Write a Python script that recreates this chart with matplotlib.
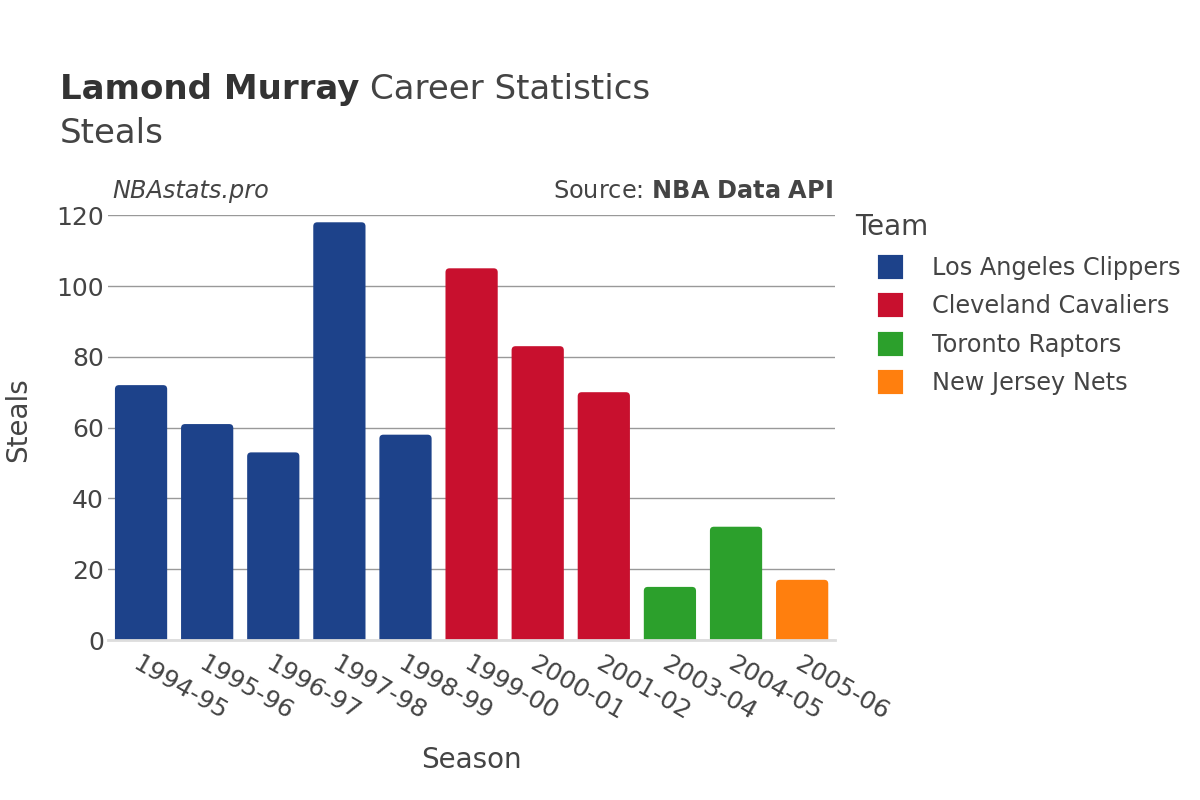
import numpy as np
import matplotlib.pyplot as plt
from matplotlib.patches import FancyBboxPatch, Patch

# data
seasons = ['1994-95', '1995-96', '1996-97', '1997-98', '1998-99', '1999-00',
           '2000-01', '2001-02', '2003-04', '2004-05', '2005-06']
steals = [72, 61, 53, 118, 58, 105, 83, 70, 15, 32, 17]
teams = ['Los Angeles Clippers'] * 5 + ['Cleveland Cavaliers'] * 3 + \
        ['Toronto Raptors'] * 2 + ['New Jersey Nets']
team_order = ['Los Angeles Clippers', 'Cleveland Cavaliers', 'Toronto Raptors', 'New Jersey Nets']
team_colors = {'Los Angeles Clippers': '#1d428a',
               'Cleveland Cavaliers': '#c8102e',
               'Toronto Raptors': '#2ca02c',
               'New Jersey Nets': '#ff7f0e'}

txt = '#444444'

fig = plt.figure(figsize=(12, 8), dpi=100)
ax = fig.add_axes([0.09, 0.2, 0.606, 0.531])

x = np.arange(len(seasons))
width = 0.79
ax.set_xlim(-0.5, len(seasons) - 0.5)
ax.set_ylim(0, 120)

# rounded bars: radius ~4 px, bottom pushed below 0 so it is clipped square
px_x = ax.get_position().width * 1200 / len(seasons)
px_y = ax.get_position().height * 800 / 120
r = 4 / px_x
aspect = (4 / px_y) / r
for xi, v, t in zip(x, steals, teams):
    p = FancyBboxPatch((xi - width / 2, -5), width, v + 5,
                       boxstyle='round,pad=0,rounding_size=%f' % r,
                       mutation_aspect=aspect, fc=team_colors[t], ec='none', zorder=3)
    ax.add_patch(p)

ax.set_yticks([0, 20, 40, 60, 80, 100, 120])
ax.yaxis.grid(True, color='#999999', linewidth=1)
ax.set_axisbelow(True)
for s in ['top', 'right', 'left']:
    ax.spines[s].set_visible(False)
ax.spines['bottom'].set_color('#dddddd')
ax.spines['bottom'].set_linewidth(2)
ax.spines['bottom'].set_zorder(4)
ax.tick_params(axis='both', length=0, labelsize=18, colors=txt)
ax.tick_params(axis='y', pad=3)
ax.tick_params(axis='x', pad=8)
ax.set_xticks(x)
ax.set_xticklabels(seasons, rotation=-30, ha='left', rotation_mode='anchor')

# axis titles
fig.text(0.3925, 0.05, 'Season', fontsize=20, color=txt, ha='center', va='center')
fig.text(0.015, 0.475, 'Steals', fontsize=20, color=txt, ha='center', va='center', rotation=90)

fig.text(0.05, 0.876, 'Lamond Murray', fontsize=24.5, fontweight='bold', color='#333333')
fig.text(0.308, 0.876, 'Career Statistics', fontsize=24.5, color=txt)
fig.text(0.05, 0.821, 'Steals', fontsize=24.5, color=txt)

fig.text(0.094, 0.752, 'NBAstats.pro', fontsize=17.3, style='italic', color=txt)
fig.text(0.694, 0.752, 'Source: $\\bf{NBA\\ Data\\ API}$', fontsize=17.3, color=txt, ha='right')

fig.text(0.7125, 0.716, 'Team', fontsize=20, color=txt, va='center')
handles = [Patch(facecolor=team_colors[t], edgecolor=team_colors[t], linewidth=3,
                 joinstyle='round', label=t) for t in team_order]
leg = fig.legend(handles=handles, loc='upper left', bbox_to_anchor=(0.733, 0.68),
                 frameon=False, fontsize=17.3, borderpad=0, borderaxespad=0,
                 handlelength=0.9, handleheight=0.9, labelspacing=0.6, handletextpad=1.3)
for t in leg.get_texts():
    t.set_color(txt)

fig.savefig('out.png', dpi=100)
